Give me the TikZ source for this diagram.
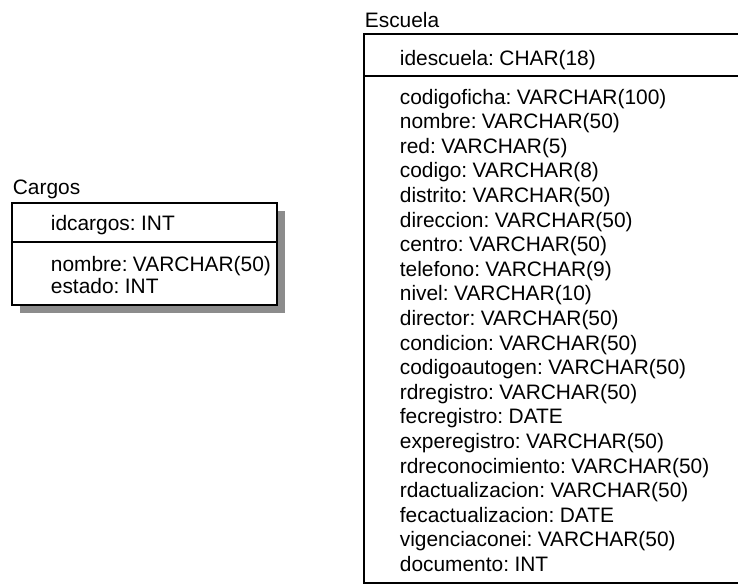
\documentclass[tikz,border=0pt]{standalone}
\usepackage{fontspec}
\setmainfont[WordSpace=0.6]{Liberation Sans}
\begin{document}
\begin{tikzpicture}[x=0.02cm, y=-0.02cm, line width=1pt,
	every node/.style={anchor=base west, inner sep=0pt, font=\fontsize{11.9}{14}\selectfont}]

\clip (0,0) rectangle (738,585);

%% CARGOS
% Shadow
\fill[black!45] (20,211) rectangle (285,313);
% Main
\draw[fill=white] (12,203) rectangle (277,305);
\draw (12,242) -- (277,242);

% Text
\node (cargos) at (12,194) {Cargos};
\node (cargos-pk) at (50,230) {idcargos: INT};
\node (cargos-1) at (50,271) {nombre: VARCHAR(50)};
\node (cargos-2) at (50,293) {estado: INT};

%% ESCUELA
% Main
\draw (364,34) rectangle (760,583);
\draw (364,76) -- (760,76);

% Text
\node (escuela) at (364,27) {Escuela};
\node (escuela-pk) at (399,65) {idescuela: CHAR(18)};
\foreach \txt [count=\i from 0] in {codigoficha: VARCHAR(100), nombre: VARCHAR(50),
	red: VARCHAR(5), codigo: VARCHAR(8), distrito: VARCHAR(50), direccion: VARCHAR(50),
	centro: VARCHAR(50), telefono: VARCHAR(9), nivel: VARCHAR(10), director: VARCHAR(50),
	condicion: VARCHAR(50), codigoautogen: VARCHAR(50), rdregistro: VARCHAR(50),
	fecregistro: DATE, experegistro: VARCHAR(50), rdreconocimiento: VARCHAR(50),
	rdactualizacion: VARCHAR(50), fecactualizacion: DATE, vigenciaconei: VARCHAR(50),
	documento: INT}
{
	\node (escuela-\i) at (399,104+\i*24.6) {\txt};
}

\end{tikzpicture}
\end{document}
